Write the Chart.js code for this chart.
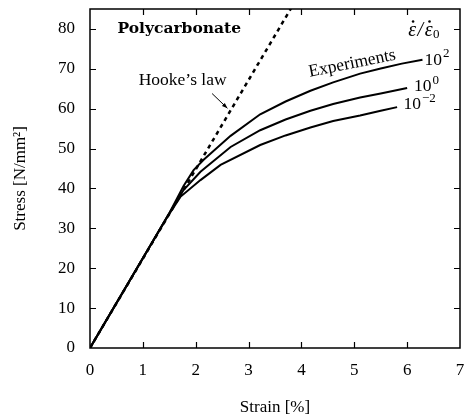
<!DOCTYPE html>
<html><head><meta charset="utf-8">
<script src="https://cdn.jsdelivr.net/npm/chart.js@4"></script>
<style>html,body{margin:0;padding:0;background:#fff;overflow:hidden}</style>
</head><body>
<canvas id="c" width="464" height="418" style="display:block;width:464px;height:418px"></canvas>
<script>
// ---- data ----
const xTicks = [0, 1, 2, 3, 4, 5, 6, 7];
const yTicks = [0, 10, 20, 30, 40, 50, 60, 70, 80];
const hookeStrain = [0, 3.8];
const hookeStress = [0, 85.1];
const strainHigh = [0, 1.5, 1.77, 1.96, 2.15, 2.66, 3.22, 3.7, 4.17, 4.6, 5.11, 5.5, 5.9, 6.29];
const stressHigh = [0, 33.8, 40.6, 44.6, 47.2, 53.2, 58.6, 61.8, 64.5, 66.6, 68.8, 70.1, 71.3, 72.3];
const strainMid = [0, 1.5, 1.77, 2.09, 2.66, 3.22, 3.7, 4.17, 4.6, 5.11, 5.5, 6.0];
const stressMid = [0, 33.8, 39.6, 44.2, 50.4, 54.6, 57.3, 59.5, 61.2, 62.8, 63.8, 65.2];
const strainLow = [0, 1.45, 1.71, 2.09, 2.47, 3.22, 3.7, 4.17, 4.6, 5.11, 5.5, 5.81];
const stressLow = [0, 32.6, 37.9, 42.1, 45.9, 50.9, 53.3, 55.3, 56.9, 58.3, 59.5, 60.4];
const rateBases = ['10', '10', '10'];
const rateExps = ['2', '0', '\u22122'];
const rateHeader = ['\u03B5', '/', '\u03B5', '0'];
const titleText = 'Polycarbonate';
const hookeText = 'Hooke\u2019s law';
const expText = 'Experiments';

const pts = (xs, ys) => xs.map((x, i) => ({x, y: ys[i]}));

// ---- layout / style (not data) ----
const FONT = "'Liberation Serif', serif";
const ratePos = [[6.33, 72.2], [6.13, 65.5], [5.93, 61.0]];
const headerPos = [6.02, 79.6];
const titlePos = [0.52, 80.0];
const hookePos = [0.92, 67.2];
const expPos = [4.96, 71.3];
const arrowFrom = [2.31, 63.8], arrowTo = [2.60, 60.1];

const zeroPad = s => { s.paddingTop = 0; s.paddingBottom = 0; s.paddingLeft = 0; s.paddingRight = 0; };

const framePlugin = {
  id: 'frame',
  afterDraw(chart) {
    const {ctx, chartArea: a, scales: {x, y}} = chart;
    ctx.save();
    ctx.strokeStyle = '#000';
    ctx.lineWidth = 1.5;
    ctx.strokeRect(a.left, a.top, a.right - a.left, a.bottom - a.top);
    ctx.lineWidth = 1.2;
    ctx.beginPath();
    x.ticks.forEach(t => {
      if (t.value === x.min || t.value === x.max) return;
      const px = Math.round(x.getPixelForValue(t.value)) + 0.5;
      ctx.moveTo(px, a.bottom); ctx.lineTo(px, a.bottom - 6);
      ctx.moveTo(px, a.top); ctx.lineTo(px, a.top + 6);
    });
    y.ticks.forEach(t => {
      if (t.value === y.min) return;
      const py = Math.round(y.getPixelForValue(t.value)) + 0.5;
      ctx.moveTo(a.left, py); ctx.lineTo(a.left + 6, py);
      ctx.moveTo(a.right, py); ctx.lineTo(a.right - 6, py);
    });
    ctx.stroke();

    const X = v => x.getPixelForValue(v), Y = v => y.getPixelForValue(v);
    ctx.fillStyle = '#000';
    ctx.textBaseline = 'middle';
    // title
    ctx.font = "bold 15.5px 'DejaVu Serif', serif";
    ctx.textAlign = 'left';
    ctx.fillText(titleText, X(titlePos[0]), Y(titlePos[1]));
    // Hooke
    ctx.font = '17.5px ' + FONT;
    ctx.fillText(hookeText, X(hookePos[0]), Y(hookePos[1]));
    // arrow
    const x0 = X(arrowFrom[0]), y0 = Y(arrowFrom[1]), x1 = X(arrowTo[0]), y1 = Y(arrowTo[1]);
    ctx.lineWidth = 1;
    ctx.beginPath(); ctx.moveTo(x0, y0); ctx.lineTo(x1, y1); ctx.stroke();
    const ang = Math.atan2(y1 - y0, x1 - x0);
    ctx.beginPath();
    ctx.moveTo(x1, y1);
    ctx.lineTo(x1 - 6 * Math.cos(ang - 0.35), y1 - 6 * Math.sin(ang - 0.35));
    ctx.lineTo(x1 - 6 * Math.cos(ang + 0.35), y1 - 6 * Math.sin(ang + 0.35));
    ctx.closePath(); ctx.fill();
    // Experiments
    ctx.save();
    ctx.translate(X(expPos[0]), Y(expPos[1]));
    ctx.rotate(-11.3 * Math.PI / 180);
    ctx.textAlign = 'center';
    ctx.font = '17.5px ' + FONT;
    ctx.fillText(expText, 0, 0);
    ctx.restore();
    // rate labels
    rateBases.forEach((b, i) => {
      const px = X(ratePos[i][0]), py = Y(ratePos[i][1]);
      ctx.font = '17.5px ' + FONT;
      ctx.textAlign = 'left';
      ctx.fillText(b, px, py);
      const w = ctx.measureText(b).width;
      ctx.font = '13px ' + FONT;
      ctx.fillText(rateExps[i], px + w + 1, py - 6);
    });
    // header  (eps-dot / eps-dot_0)
    {
      let px = X(headerPos[0]);
      const py = Y(headerPos[1]);
      ctx.textAlign = 'left';
      const dotAbove = (cx) => { ctx.beginPath(); ctx.arc(cx, py - 9, 1.3, 0, Math.PI * 2); ctx.fill(); };
      ctx.font = 'italic 20px ' + FONT;
      let w = ctx.measureText(rateHeader[0]).width;
      ctx.fillText(rateHeader[0], px, py); dotAbove(px + w * 0.62); px += w + 1.5;
      w = ctx.measureText(rateHeader[1]).width;
      ctx.fillText(rateHeader[1], px, py); px += w + 1.5;
      w = ctx.measureText(rateHeader[2]).width;
      ctx.fillText(rateHeader[2], px, py); dotAbove(px + w * 0.62); px += w + 0.5;
      ctx.font = '13px ' + FONT;
      ctx.fillText(rateHeader[3], px, py + 4);
    }
    ctx.restore();
  }
};

new Chart(document.getElementById('c'), {
  type: 'scatter',
  data: {
    datasets: [
      {data: pts(hookeStrain, hookeStress), showLine: true, borderColor: '#000', borderWidth: 2.5, borderDash: [4, 4], pointRadius: 0, tension: 0},
      {data: pts(strainHigh, stressHigh), showLine: true, borderColor: '#000', borderWidth: 2, pointRadius: 0, tension: 0},
      {data: pts(strainMid, stressMid), showLine: true, borderColor: '#000', borderWidth: 2, pointRadius: 0, tension: 0},
      {data: pts(strainLow, stressLow), showLine: true, borderColor: '#000', borderWidth: 2, pointRadius: 0, tension: 0}
    ]
  },
  options: {
    responsive: false,
    animation: false,
    devicePixelRatio: 1,
    layout: {padding: {top: 9, right: 4, left: 0, bottom: 0}},
    plugins: {legend: {display: false}, tooltip: {enabled: false}},
    scales: {
      x: {
        type: 'linear', min: 0, max: 7,
        afterBuildTicks: s => { s.ticks = xTicks.map(v => ({value: v})); },
        afterFit: s => { s.height = 70; zeroPad(s); },
        grid: {display: false, drawTicks: false},
        border: {display: false},
        ticks: {color: '#000', font: {family: FONT, size: 17}, padding: 12, maxRotation: 0},
        title: {display: true, text: 'Strain [%]', color: '#000', font: {family: FONT, size: 17}, padding: {top: 0, bottom: 0}}
      },
      y: {
        type: 'linear', min: 0, max: 85,
        afterBuildTicks: s => { s.ticks = yTicks.map(v => ({value: v})); },
        afterFit: s => { s.width = 90; zeroPad(s); },
        grid: {display: false, drawTicks: false},
        border: {display: false},
        ticks: {color: '#000', font: {family: FONT, size: 17}, padding: 15},
        title: {display: true, text: 'Stress [N/mm\u00B2]', color: '#000', font: {family: FONT, size: 17}, padding: {top: 10, bottom: 0}}
      }
    }
  },
  plugins: [framePlugin]
});
</script>
</body></html>
